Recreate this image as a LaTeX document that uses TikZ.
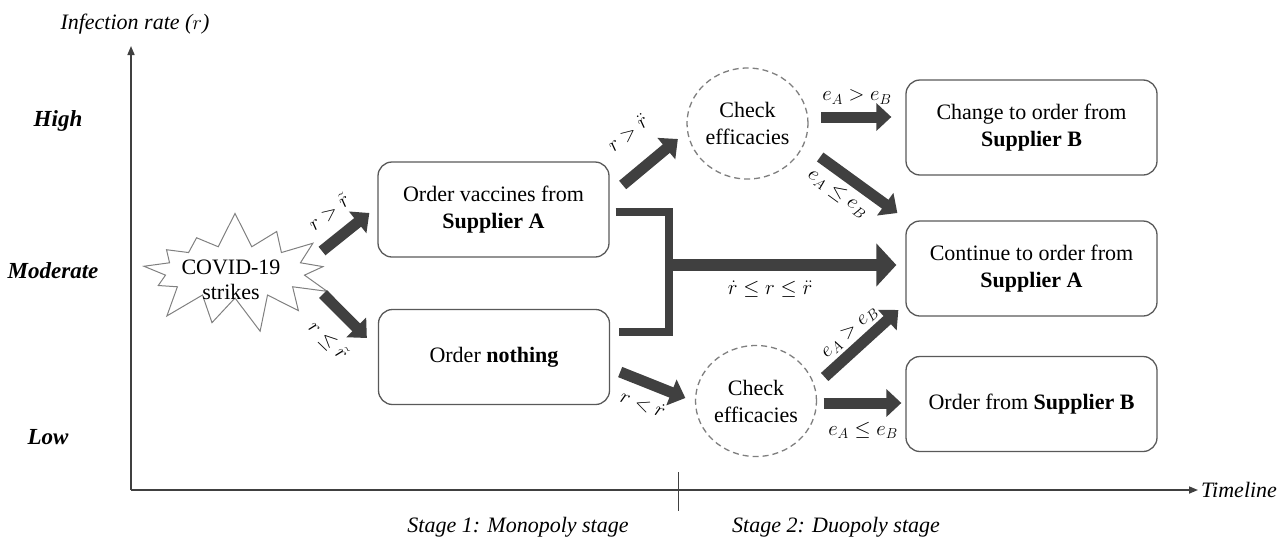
\documentclass[tikz,border=0pt]{standalone}
\usepackage{fontspec}
\setmainfont{Liberation Serif}
\usetikzlibrary{arrows.meta,shapes.symbols,shapes.geometric,calc}
\definecolor{ink}{HTML}{404040}
\definecolor{boxline}{HTML}{595959}
\definecolor{dashline}{HTML}{7F7F7F}
\begin{document}
\begin{tikzpicture}[x=1pt,y=-1pt,
  every node/.style={font=\fontsize{22}{27}\selectfont, inner sep=0pt},
  box/.style={draw=boxline, line width=1.3pt, rounded corners=14pt, align=center,
    minimum height=95pt},
  leftbox/.style={box, minimum width=231pt},
  rightbox/.style={box, minimum width=251pt},
  check/.style={ellipse, draw=dashline, dash pattern=on 6pt off 4pt, line width=1.3pt,
    minimum width=121pt, minimum height=111pt, align=center},
  flow/.style={draw=ink, line width=11pt, line cap=butt,
    -{Triangle[length=15pt,width=27pt]}},
  bigflow/.style={draw=ink, line width=12pt, line cap=butt,
    -{Triangle[length=20pt,width=42pt]}},
  merge/.style={draw=ink, line width=8pt, line join=miter},
  axis/.style={draw=ink, line width=1.6pt, -{Triangle[length=9pt,width=7pt]}},
  cond/.style={font=\fontsize{20}{24}\selectfont},
  level/.style={font=\fontsize{23}{27}\selectfont\bfseries\itshape},
  note/.style={font=\fontsize{22}{27}\selectfont\itshape},
]
\useasboundingbox (0,0) rectangle (1281,536);

% axes
\coordinate (O) at (131,490);
\coordinate (ytop) at (131,46);
\coordinate (xend) at (1198,490);
\coordinate (tickT) at (678,472);
\coordinate (tickB) at (678,511);
\draw[axis] (O) -- (ytop);
\draw[axis] (O) -- (xend);
\draw[ink, line width=1pt] (tickT) -- (tickB);

\node[note, anchor=center] (ylab) at (135,24) {Infection rate ($r$)};
\node[note, anchor=west] (xlab) at (1201,490) {Timeline};
\node[note, anchor=base] (st1) at (518,532) {Stage 1: Monopoly stage};
\node[note, anchor=base] (st2) at (836,532) {Stage 2: Duopoly stage};

\node[level] (high) at (58,121) {High};
\node[level] (mod) at (53,271) {Moderate};
\node[level] (low) at (48,437) {Low};

% outbreak
\node[starburst, starburst points=13, starburst point height=36pt, random starburst=7,
  draw=gray, line width=1pt, minimum width=212pt, minimum height=124pt] (burst) at (235,272) {};
\node[align=center, font=\fontsize{22}{25}\selectfont] (bursttext) at (231,280) {COVID-19\\strikes};

% decision boxes
\node[leftbox] (A) at (493.5,209.5) {Order vaccines from\\\textbf{Supplier A}};
\node[leftbox] (N) at (494,357) {Order \textbf{nothing}};
\node[check] (T) at (747.5,123.5) {Check\\efficacies};
\node[check] (L) at (756,401) {Check\\efficacies};
\node[rightbox] (B1) at (1031.5,127.5) {Change to order from\\\textbf{Supplier B}};
\node[rightbox] (C) at (1031.5,268.5) {Continue to order from\\\textbf{Supplier A}};
\node[rightbox] (D) at (1031.5,404) {Order from \textbf{Supplier B}};

% stage 1 branches
\draw[flow] ([shift={(87,-21)}]burst.center) -- ([shift={(-8,3.5)}]A.west);
\draw[flow] ([shift={(88,22)}]burst.center) -- ([shift={(-11,-19)}]N.west);
\node[cond, rotate=38] (c1) at (329,212) {$r > \tilde{r}$};
\node[cond, rotate=-44] (c2) at (328,341) {$r \leq \tilde{r}$};

% stage 2 branches
\draw[flow] ([shift={(13,-24.5)}]A.east) -- ([shift={(-8.5,15.5)}]T.west);
\draw[flow] ([shift={(10,15)}]N.east) -- ([shift={(-9.5,-3)}]L.west);
\node[cond, rotate=39] (c3) at (628,133) {$r > \ddot{r}$};
\node[cond, rotate=-21] (c4) at (643,404) {$r < \dot{r}$};

% moderate rate: keep Supplier A
\coordinate (J) at (669,265);
\draw[merge] ([shift={(6,2.5)}]A.east) -- (669,212) -- (669,332) -- ([shift={(9,-25)}]N.east);
\draw[bigflow] ([shift={(-4,0)}]J) -- ([shift={(-9,-3.5)}]C.west);
\node[cond] (c5) at (770,289) {$\dot{r} \leq r \leq \ddot{r}$};

% efficacy comparisons
\draw[flow] ([shift={(12.5,-6.5)}]T.east) -- ([shift={(-14,-10.5)}]B1.west);
\draw[flow] ([shift={(11.5,33.5)}]T.east) -- ([shift={(-8,-55.5)}]C.west);
\draw[flow] ([shift={(7.5,-24)}]L.east) -- ([shift={(-7,41.5)}]C.west);
\draw[flow] ([shift={(6.5,2)}]L.east) -- ([shift={(-4,-1)}]D.west);
\node[cond] (c6) at (857,97) {$e_A > e_B$};
\node[cond, rotate=-36] (c7) at (838,193) {$e_A \leq e_B$};
\node[cond, rotate=42] (c8) at (850,332) {$e_A > e_B$};
\node[cond] (c9) at (863,430) {$e_A \leq e_B$};
\end{tikzpicture}
\end{document}
